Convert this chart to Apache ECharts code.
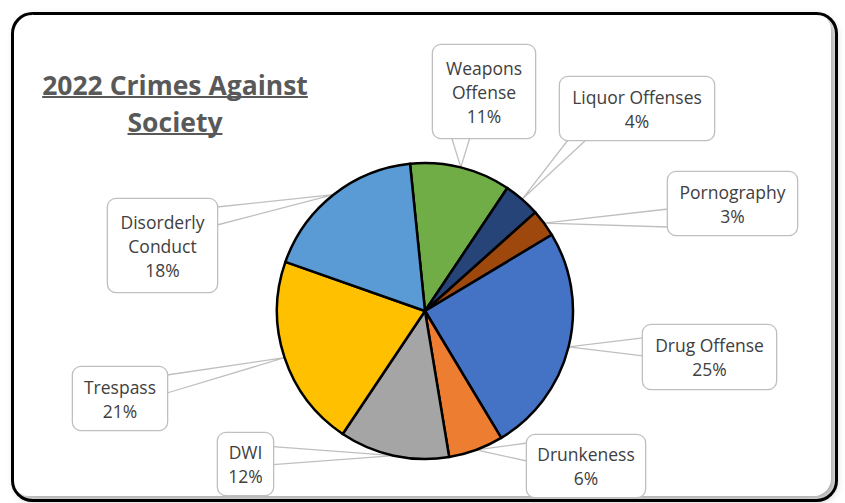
<!DOCTYPE html>
<html>
<head>
<meta charset="utf-8">
<script src="https://cdn.jsdelivr.net/npm/echarts@6/dist/echarts.min.js"></script>
<style>
  html, body { margin: 0; padding: 0; background: #ffffff; }
  #chart { width: 845px; height: 503px; }
</style>
</head>
<body>
<div id="chart"></div>
<script>
// ---- data ----
const categories = ['Weapons Offense', 'Liquor Offenses', 'Pornography', 'Drug Offense',
                    'Drunkeness', 'DWI', 'Trespass', 'Disorderly Conduct'];
const labelNames = ['Weapons\nOffense', 'Liquor Offenses', 'Pornography', 'Drug Offense',
                    'Drunkeness', 'DWI', 'Trespass', 'Disorderly\nConduct'];
const shares = [11, 4, 3, 25, 6, 12, 21, 18];
const titleLines = ['2022 Crimes Against', 'Society'];

// ---- styling ----
const sliceColors = ['#70AD47', '#264478', '#9E480E', '#4472C4',
                     '#ED7D31', '#A5A5A5', '#FFC000', '#5B9BD5'];
// callout boxes: [centre x, centre y, width, height]
const calloutBoxes = [
  [484, 91.5, 102, 93],
  [637, 108.5, 154, 63],
  [732.5, 203.5, 129, 63],
  [709.5, 357, 133, 64],
  [586, 466, 118, 62],
  [245.5, 464, 55, 62],
  [120, 398.5, 94, 63],
  [162.5, 245.5, 109, 93]
];
const LINE_H = 24;
const LABEL_FONT = '"Open Sans"';
const TITLE_FONT_SIZE = 26.5;
const TITLE_FONT = 'bold ' + TITLE_FONT_SIZE + 'px "Open Sans"';
const TITLE_CX = 175;
const TITLE_BASELINES = [92, 129];

function textWidth(str, font) {
  const ctx = document.createElement('canvas').getContext('2d');
  ctx.font = font;
  return ctx.measureText(str).width;
}

// V-shaped pointer from the edge of a callout box to the slice tip
function calloutPointer(box, tip) {
  const [cx, cy, w, h] = box;
  const dx = tip[0] - cx, dy = tip[1] - cy;
  const half = 9, margin = 17;
  const clamp = (v, a, b) => Math.max(a, Math.min(b, v));
  if (Math.abs(dx) / (w / 2) > Math.abs(dy) / (h / 2)) {
    const ex = cx + Math.sign(dx) * w / 2;
    const c = clamp(tip[1], cy - h / 2 + margin, cy + h / 2 - margin);
    return [[ex, c - half], [tip[0], tip[1]], [ex, c + half]];
  }
  const ey = cy + Math.sign(dy) * h / 2;
  const c = clamp(tip[0], cx - w / 2 + margin, cx + w / 2 - margin);
  return [[c - half, ey], [tip[0], tip[1]], [c + half, ey]];
}

const chart = echarts.init(document.getElementById('chart'), null, { renderer: 'svg' });

const pieData = categories.map((name, i) => {
  const box = calloutBoxes[i];
  const lines = labelNames[i].split('\n').length + 1;
  const pv = (box[3] - lines * LINE_H) / 2;
  return {
    name: name,
    value: shares[i],
    itemStyle: { color: sliceColors[i] },
    label: { width: box[2], padding: [pv, 0, pv, 0] }
  };
});

const titleGraphics = [];
titleLines.forEach((t, k) => {
  const w = textWidth(t, TITLE_FONT);
  titleGraphics.push({
    type: 'text',
    z: 10,
    style: {
      text: t, x: TITLE_CX, y: TITLE_BASELINES[k] - 0.27 * TITLE_FONT_SIZE,
      align: 'center', verticalAlign: 'middle',
      font: TITLE_FONT, fill: '#595959'
    }
  });
  titleGraphics.push({
    type: 'rect',
    z: 10,
    shape: { x: TITLE_CX - w / 2, y: TITLE_BASELINES[k] + 4, width: w, height: 2 },
    style: { fill: '#595959' }
  });
});

chart.setOption({
  backgroundColor: '#ffffff',
  animation: false,
  graphic: [
    {
      type: 'rect', z: -2,
      shape: { x: 12, y: 13, width: 819, height: 483, r: 18 },
      style: {
        fill: '#ffffff', shadowBlur: 8, shadowColor: 'rgba(0,0,0,0.35)',
        shadowOffsetX: 4, shadowOffsetY: 4
      }
    },
    {
      type: 'rect', z: 20,
      shape: { x: 12.5, y: 13.5, width: 824, height: 487, r: 20 },
      style: { fill: 'none', stroke: '#000000', lineWidth: 3 }
    }
  ].concat(titleGraphics),
  series: [{
    type: 'pie',
    center: [425, 311],
    radius: 148,
    startAngle: 95.8,
    clockwise: true,
    avoidLabelOverlap: false,
    itemStyle: { borderColor: '#000000', borderWidth: 2.5 },
    label: {
      show: true,
      position: 'outside',
      formatter: p => labelNames[p.dataIndex] + '\n' + p.value + '%',
      fontFamily: LABEL_FONT,
      fontSize: 17.5,
      lineHeight: LINE_H,
      color: '#404040',
      align: 'center',
      backgroundColor: '#ffffff',
      borderColor: '#BFBFBF',
      borderWidth: 1.3,
      borderRadius: 8
    },
    labelLine: {
      show: true,
      smooth: false,
      lineStyle: { color: '#BFBFBF', width: 1.3 }
    },
    labelLayout: function (params) {
      const box = calloutBoxes[params.dataIndex];
      const out = { x: box[0], y: box[1], align: 'center', verticalAlign: 'middle' };
      if (params.labelLinePoints) {
        out.labelLinePoints = calloutPointer(box, params.labelLinePoints[0]);
      }
      return out;
    },
    emphasis: { disabled: true },
    data: pieData
  }]
});
</script>
</body>
</html>
